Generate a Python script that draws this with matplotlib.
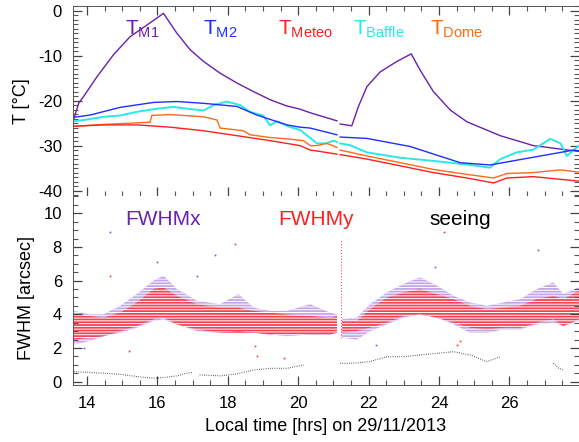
import numpy as np
import matplotlib
matplotlib.use('Agg')
import matplotlib.pyplot as plt
from matplotlib.ticker import MultipleLocator

nan = np.nan

# temperatures (deg C) vs local time (hrs)
t_m1 = [13.63, 13.76, 13.90, 14.28, 14.75, 15.22, 15.70, 16.17, 16.55, 16.93, 17.31, 17.78,
        18.26, 18.73, 19.20, 19.68, 20.05, 20.34, 21.10, 21.15, 21.19, 21.52, 21.71, 21.95,
        22.33, 22.80, 23.21, 23.46, 23.84, 24.32, 24.79, 25.74, 26.68, 27.98]
T_m1 = [-23.9, -20.6, -19.1, -14.7, -9.8, -5.8, -3.2, -0.6, -5.0, -8.7, -11.3, -13.9,
        -16.1, -18.0, -19.8, -21.2, -21.9, -22.7, -24.5, nan, -25.2, -25.6, -21.3, -16.9,
        -13.6, -11.3, -9.6, -13.2, -18.0, -22.1, -24.7, -27.8, -30.0, -31.3]

t_m2 = [13.63, 14.09, 14.94, 15.89, 16.55, 17.31, 18.26, 18.82, 19.68, 20.05, 20.34, 21.10,
        21.15, 21.19, 21.95, 23.18, 24.60, 25.45, 27.82, 27.98]
T_m2 = [-23.7, -23.2, -21.5, -20.4, -20.2, -20.6, -21.3, -23.2, -25.4, -25.9, -26.1, -27.6,
        nan, -28.1, -28.4, -30.2, -33.8, -34.3, -31.0, -31.2]

t_baffle = [13.63, 14.00, 14.47, 14.94, 15.41, 15.98, 16.45, 16.84, 17.31, 17.59, 17.97, 18.35,
            18.63, 19.00, 19.20, 19.39, 19.77, 20.05, 20.34, 20.53, 20.80, 21.00, 21.10, 21.15,
            21.19, 21.47, 21.95, 22.90, 23.84, 24.79, 25.45, 25.74, 26.21, 26.68, 27.16, 27.45,
            27.63, 27.98]
T_baffle = [-24.6, -24.2, -23.6, -23.3, -22.5, -21.8, -21.4, -21.8, -22.2, -21.0, -20.2, -21.0,
            -22.5, -23.3, -25.5, -24.6, -25.9, -26.5, -28.3, -29.5, -29.5, -28.9, -29.2, nan,
            -29.5, -29.9, -31.5, -32.7, -33.4, -34.2, -34.9, -33.0, -31.5, -30.9, -28.5, -29.5,
            -32.3, -30.0]

t_dome = [13.63, 14.47, 15.79, 15.84, 16.36, 17.31, 17.69, 17.78, 18.44, 18.63, 19.20, 19.68,
          20.15, 20.34, 20.53, 20.81, 21.10, 21.15, 21.19, 21.95, 22.90, 23.84, 24.79, 25.55,
          25.93, 26.68, 27.44, 27.98]
T_dome = [-25.7, -25.3, -24.8, -23.3, -23.1, -23.6, -24.3, -26.1, -26.7, -27.6, -28.2, -28.5,
          -28.9, -30.0, -30.0, -29.5, -30.4, nan, -31.0, -32.3, -33.8, -35.3, -36.4, -37.2,
          -36.2, -36.0, -35.4, -35.9]

t_meteo = [13.63, 14.47, 15.41, 16.36, 17.31, 18.26, 19.20, 20.05, 20.34, 20.53, 21.10, 21.15,
           21.19, 21.95, 22.90, 23.84, 24.79, 25.55, 25.93, 26.68, 27.98]
T_meteo = [-25.7, -25.4, -25.4, -25.9, -26.7, -27.8, -28.9, -30.0, -31.0, -31.2, -31.9, nan,
           -32.0, -33.0, -34.5, -36.0, -37.2, -38.3, -37.2, -36.9, -37.9]

# FWHM bands (arcsec): lower / upper edge of the dense cloud
t_band = [13.62, 14.05, 14.47, 14.94, 15.41, 15.89, 16.17, 16.55, 17.12, 17.78, 18.30, 18.73,
          19.20, 19.68, 20.34, 20.90, 21.10, 21.17, 21.24, 21.66, 22.04, 22.52, 22.99, 23.46,
          23.94, 24.41, 24.88, 25.36, 25.83, 26.30, 26.78, 27.25, 27.53, 27.97]
fwhmy_lo = [2.5, 2.6, 2.7, 3.0, 3.3, 3.7, 3.8, 3.4, 3.1, 2.9, 2.9, 2.9,
            2.8, 2.8, 2.8, 2.8, 2.9, nan, 2.9, 3.0, 3.2, 3.5, 3.9, 4.0,
            3.8, 3.5, 3.2, 3.1, 3.2, 3.2, 3.5, 3.7, 3.3, 3.7]
fwhmy_hi = [4.0, 3.9, 3.8, 4.1, 4.7, 5.5, 5.6, 5.1, 4.6, 4.4, 4.4, 4.2,
            4.1, 4.0, 3.9, 3.8, 3.9, nan, 3.6, 3.6, 4.3, 5.0, 5.3, 5.5,
            5.2, 4.9, 4.5, 4.3, 4.4, 4.5, 4.9, 5.1, 4.9, 5.4]
fwhmx_lo = [2.2, 2.4, 2.7, 2.9, 3.2, 3.6, 3.7, 3.4, 3.0, 2.9, 3.0, 2.9,
            2.8, 2.7, 2.8, 2.8, 2.9, nan, 2.6, 2.5, 3.0, 3.4, 3.8, 4.0,
            3.8, 3.4, 2.9, 2.9, 3.1, 3.1, 3.4, 3.5, 3.3, 3.6]
fwhmx_hi = [4.2, 4.0, 4.0, 4.5, 5.2, 6.0, 6.3, 5.5, 4.8, 4.6, 5.2, 4.4,
            4.2, 4.2, 4.6, 4.1, 4.0, nan, 3.7, 3.8, 4.6, 5.3, 5.8, 6.2,
            5.7, 5.1, 4.7, 4.5, 4.7, 4.9, 5.5, 5.9, 5.2, 5.6]

t_seeing = [13.63, 14.00, 14.47, 15.00, 15.41, 15.89, 16.20, 16.55, 16.84, 17.00, 17.10, 17.20,
            17.78, 18.26, 18.73, 19.20, 19.68, 20.15, 20.70, 21.19, 21.57, 22.04, 22.52, 22.99,
            23.46, 23.94, 24.41, 24.88, 25.36, 25.74, 26.50, 27.25, 27.40, 27.53]
seeing = [0.59, 0.55, 0.50, 0.42, 0.30, 0.20, 0.25, 0.34, 0.50, 0.55, nan, 0.40,
          0.34, 0.46, 0.69, 0.79, 0.79, 0.99, nan, 1.09, 1.09, 1.19, 1.48, 1.48,
          1.58, 1.68, 1.78, 1.58, 1.19, 1.48, nan, 1.09, 0.80, 0.70]

# a few isolated points seen outside the bands
out_x_t = [14.66, 16.00, 17.12, 17.64, 23.89, 26.82, 13.9, 22.2]
out_x_v = [8.9, 7.1, 6.3, 7.5, 6.8, 7.8, 2.0, 2.2]
out_y_t = [14.66, 18.20, 18.78, 18.82, 24.14, 24.50, 24.60, 15.2, 19.6]
out_y_v = [6.3, 8.2, 2.1, 1.5, 8.9, 2.2, 2.4, 1.8, 1.4]
streak_t = [21.22, 21.22]
streak_v = [2.6, 8.5]

c_m1 = '#6a1fb0'
c_m2 = '#1f2fff'
c_meteo = '#ff1f1f'
c_baffle = '#2ae8e8'
c_dome = '#ff6a14'

plt.rcParams['font.family'] = ['Liberation Sans', 'DejaVu Sans']
plt.rcParams['mathtext.fontset'] = 'custom'
plt.rcParams['mathtext.rm'] = 'Liberation Sans'
plt.rcParams['mathtext.it'] = 'Liberation Sans'
plt.rcParams['axes.unicode_minus'] = False
plt.rcParams['hatch.linewidth'] = 0.7

fig = plt.figure(figsize=(5.79, 4.42), dpi=100)
ax1 = fig.add_axes([0.1261, 0.5566, 0.8735, 0.4305])
ax2 = fig.add_axes([0.1261, 0.1290, 0.8735, 0.4276])

ax1.plot(t_m1, T_m1, color=c_m1, lw=1)
ax1.plot(t_baffle, T_baffle, color=c_baffle, lw=1.4)
ax1.plot(t_m2, T_m2, color=c_m2, lw=1)
ax1.plot(t_dome, T_dome, color=c_dome, lw=1)
ax1.plot(t_meteo, T_meteo, color=c_meteo, lw=1)

labels = [('T$_{\\rm M1}$', c_m1, 0.103), ('T$_{\\rm M2}$', c_m2, 0.257),
          ('T$_{\\rm Meteo}$', c_meteo, 0.406), ('T$_{\\rm Baffle}$', c_baffle, 0.554),
          ('T$_{\\rm Dome}$', c_dome, 0.705)]
for s, c, xf in labels:
    ax1.text(xf, 0.847, s, color=c, fontsize=15, transform=ax1.transAxes, va='baseline')

ax1.set_ylim(-41.2, 1.1)
ax1.set_yticks([0, -10, -20, -30, -40])
ax1.yaxis.set_minor_locator(MultipleLocator(1))
ax1.set_ylabel('T [°C]', fontsize=13)
ax1.yaxis.set_label_coords(-0.085, 0.5)

# bottom panel
ax2.fill_between(t_band, fwhmx_lo, fwhmx_hi, color='#8a4fd0', alpha=0.5, lw=0)
ax2.fill_between(t_band, fwhmy_lo, fwhmy_hi, color='#ff2a2a', alpha=0.8, lw=0)
ax2.fill_between(t_band, fwhmx_lo, fwhmx_hi, facecolor='none', edgecolor='white',
                 hatch='------', lw=0)
ax2.plot(t_seeing, seeing, color='#222222', lw=0.8, ls=(0, (0.6, 1.4)))
ax2.plot(out_x_t, out_x_v, ls='none', marker='s', ms=1.2, color='#8a4fd0', mew=0)
ax2.plot(out_y_t, out_y_v, ls='none', marker='s', ms=1.2, color='#ff3030', mew=0)
ax2.plot(streak_t, streak_v, color='#ff3030', lw=0.7, ls=(0, (1, 2)))

bl = [('FWHMx', c_m1, 0.103), ('FWHMy', c_meteo, 0.406), ('seeing', 'black', 0.705)]
for s, c, xf in bl:
    ax2.text(xf, 0.847, s, color=c, fontsize=15, transform=ax2.transAxes, va='baseline')

ax2.set_ylim(-0.2, 11.03)
ax2.set_yticks([0, 2, 4, 6, 8, 10])
ax2.yaxis.set_minor_locator(MultipleLocator(0.5))
ax2.set_ylabel('FWHM [arcsec]', fontsize=13)
ax2.yaxis.set_label_coords(-0.075, 0.46)
ax2.set_xlabel('Local time [hrs] on 29/11/2013', fontsize=13)
ax2.xaxis.set_label_coords(0.5, -0.175)

for ax in (ax1, ax2):
    ax.set_xlim(13.6, 27.97)
    ax.set_xticks([14, 16, 18, 20, 22, 24, 26])
    ax.xaxis.set_minor_locator(MultipleLocator(0.5))
    # ticks inside on both sides, like the original
    ax.tick_params(axis='both', which='major', direction='in', length=6.5, width=0.9,
                   color='#444444', labelsize=12, pad=8, left=True, right=True)
    ax.tick_params(axis='both', which='minor', direction='in', length=3.5, width=0.8,
                   color='#555555', left=True, right=True)
    for sp in ax.spines.values():
        sp.set_linewidth(0.7)
        sp.set_color('#555555')

ax1.tick_params(which='both', top=True, bottom=True, labelbottom=False)
ax2.tick_params(which='both', top=False, bottom=True)
ax2.spines['top'].set_visible(False)

fig.savefig('out.png', dpi=100)
